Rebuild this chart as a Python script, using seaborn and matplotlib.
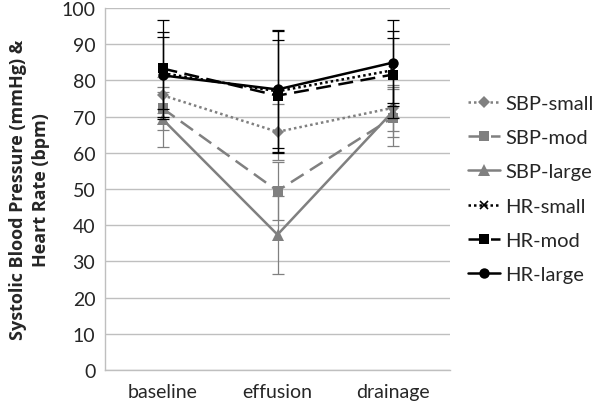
import matplotlib
matplotlib.use('Agg')
import matplotlib.pyplot as plt
import pandas as pd
import seaborn as sns

phases = ['baseline', 'effusion', 'drainage']

sbp_small = [75.9, 65.8, 72.4]
sbp_mod = [72.3, 49.5, 69.7]
sbp_large = [69.3, 37.4, 71.3]
hr_small = [82.0, 77.0, 82.8]
hr_mod = [83.3, 75.8, 81.6]
hr_large = [81.4, 77.5, 84.9]

sbp_small_sd = [5.0, 7.8, 6.3]
sbp_mod_sd = [6.0, 8.0, 7.8]
sbp_large_sd = [7.6, 10.8, 7.0]
hr_small_sd = [10.0, 17.0, 9.0]
hr_mod_sd = [13.3, 15.5, 12.0]
hr_large_sd = [12.0, 16.2, 11.9]

gray = '#808080'
series = [
    ('SBP-small', sbp_small, sbp_small_sd, gray, (0, (1, 1.2)), 'D', 6),
    ('SBP-mod', sbp_mod, sbp_mod_sd, gray, (0, (6, 3)), 's', 7),
    ('SBP-large', sbp_large, sbp_large_sd, gray, '-', '^', 8),
    ('HR-small', hr_small, hr_small_sd, 'black', (0, (1, 1.2)), 'x', 6),
    ('HR-mod', hr_mod, hr_mod_sd, 'black', (0, (6, 3)), 's', 7),
    ('HR-large', hr_large, hr_large_sd, 'black', '-', 'o', 7.5),
]

sns.set_style('white')
plt.rcParams['font.family'] = ['Lato', 'DejaVu Sans']

fig = plt.figure(figsize=(6, 4.1), dpi=100)
ax = fig.add_axes([0.175, 0.095, 0.575, 0.883])

pos = list(range(len(phases)))
for i, (name, vals, sd, color, ls, marker, ms) in enumerate(series):
    z = 3 + i
    ax.errorbar(pos, vals, yerr=sd, fmt='none', ecolor=color, elinewidth=0.9,
                capsize=4, capthick=0.9, zorder=z)
    df = pd.DataFrame({'x': pos, 'y': vals})
    sns.lineplot(data=df, x='x', y='y', ax=ax, color=color, linestyle=ls,
                 linewidth=1.8, marker=marker, markersize=ms,
                 markeredgecolor=color, markeredgewidth=1.2 if marker == 'x' else 0,
                 label=name, zorder=z + 0.5)

ax.set_xlim(-0.5, 2.5)
ax.set_ylim(0, 100)
ax.set_yticks(range(0, 101, 10))
ax.set_xticks(pos)
ax.set_xticklabels(phases)
ax.yaxis.grid(True, color='#bfbfbf', linewidth=1)
ax.set_axisbelow(True)
for s in ['top', 'right']:
    ax.spines[s].set_visible(False)
for s in ['left', 'bottom']:
    ax.spines[s].set_color('#bfbfbf')
    ax.spines[s].set_linewidth(1)
ax.tick_params(axis='y', length=4, color='#bfbfbf', labelsize=14, pad=3)
ax.tick_params(axis='x', length=0, labelsize=14, pad=9)
ax.set_xlabel('')
ax.set_ylabel('Systolic Blood Pressure (mmHg) &\nHeart Rate (bpm)',
              fontsize=13, fontweight='bold', family=['Open Sans', 'DejaVu Sans'],
              labelpad=8, linespacing=1.35)

ax.legend(loc='center left', bbox_to_anchor=(1.0, 0.5), frameon=False,
          fontsize=14.5, handlelength=1.6, handletextpad=0.25,
          labelspacing=0.85, borderaxespad=0.5)

plt.savefig('out.png', dpi=100)
